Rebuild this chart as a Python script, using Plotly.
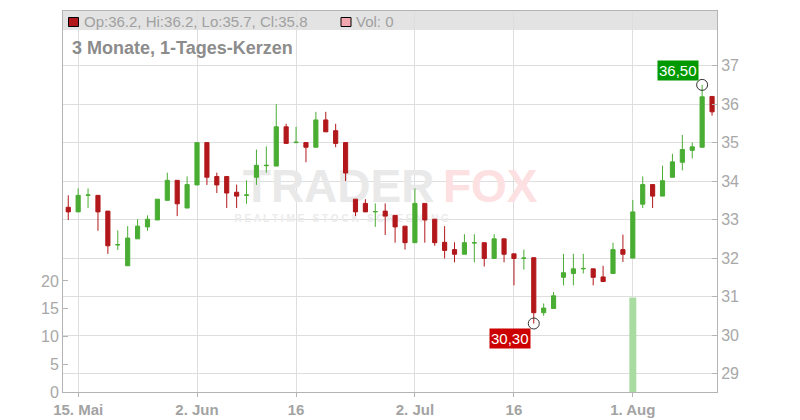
import numpy as np
import plotly.graph_objects as go

# ---------------- data ----------------
dates = [
    "2025-05-14", "2025-05-15", "2025-05-16", "2025-05-19", "2025-05-20", "2025-05-21", "2025-05-22",
    "2025-05-23", "2025-05-26", "2025-05-27", "2025-05-28", "2025-05-29", "2025-05-30", "2025-06-02",
    "2025-06-03", "2025-06-04", "2025-06-05", "2025-06-06", "2025-06-09", "2025-06-10", "2025-06-11",
    "2025-06-12", "2025-06-13", "2025-06-16", "2025-06-17", "2025-06-18", "2025-06-19", "2025-06-20",
    "2025-06-23", "2025-06-24", "2025-06-25", "2025-06-26", "2025-06-27", "2025-06-30", "2025-07-01",
    "2025-07-02", "2025-07-03", "2025-07-04", "2025-07-07", "2025-07-08", "2025-07-09", "2025-07-10",
    "2025-07-11", "2025-07-14", "2025-07-15", "2025-07-16", "2025-07-17", "2025-07-18", "2025-07-21",
    "2025-07-22", "2025-07-23", "2025-07-24", "2025-07-25", "2025-07-28", "2025-07-29", "2025-07-30",
    "2025-07-31", "2025-08-01", "2025-08-04", "2025-08-05", "2025-08-06", "2025-08-07", "2025-08-08",
    "2025-08-11", "2025-08-12", "2025-08-13",
]

open_ = [33.32, 33.20, 33.63, 33.63, 33.22, 32.34, 31.80, 32.50, 32.81, 32.99,
         33.50, 34.02, 33.30, 33.90, 35.00, 34.12, 34.12, 33.71, 33.63, 34.10,
         34.40, 34.39, 35.41, 35.00, 35.00, 34.88, 35.59, 35.31, 35.00, 33.53,
         33.42, 33.20, 33.22, 33.11, 32.83, 32.40, 33.42, 33.01, 32.41, 32.22,
         32.10, 32.39, 32.40, 31.99, 32.50, 32.11, 31.99, 32.01, 30.58, 30.69,
         31.50, 31.60, 31.72, 31.72, 31.51, 31.60, 32.22, 32.00, 33.40, 33.91,
         33.61, 34.10, 34.49, 34.80, 34.88, 36.20]
high = [33.63, 33.81, 33.81, 33.63, 33.22, 32.72, 32.83, 33.01, 33.11, 33.53,
        34.22, 34.02, 34.12, 35.00, 35.00, 34.22, 34.12, 33.91, 34.02, 34.82,
        34.90, 36.00, 35.49, 35.41, 35.00, 35.80, 35.80, 35.49, 35.00, 33.53,
        33.53, 33.42, 33.42, 33.11, 32.83, 33.81, 33.42, 33.01, 32.83, 32.41,
        32.62, 32.62, 32.40, 32.62, 32.50, 32.11, 32.22, 32.01, 30.82, 31.12,
        32.11, 32.11, 32.11, 31.72, 31.80, 32.40, 32.61, 33.51, 34.12, 33.91,
        34.40, 34.71, 35.20, 35.00, 36.50, 36.20]
low = [32.99, 33.20, 33.30, 32.71, 32.11, 32.21, 31.80, 32.50, 32.71, 32.99,
       33.50, 33.09, 33.30, 33.90, 33.90, 33.69, 33.30, 33.30, 33.41, 33.90,
       34.22, 34.39, 34.98, 35.00, 34.49, 34.88, 35.28, 34.88, 34.00, 33.09,
       33.20, 32.81, 32.60, 32.40, 32.22, 32.40, 32.40, 32.32, 31.99, 31.89,
       32.10, 31.89, 31.78, 31.99, 31.89, 31.29, 31.70, 30.30, 30.50, 30.69,
       31.29, 31.29, 31.60, 31.29, 31.39, 31.60, 31.90, 32.00, 33.30, 33.30,
       33.61, 34.10, 34.28, 34.59, 34.88, 35.70]
close = [33.20, 33.63, 33.64, 33.20, 32.32, 32.35, 32.52, 32.83, 33.01, 33.53,
         34.02, 33.41, 33.91, 35.00, 34.10, 33.90, 33.69, 33.61, 33.64, 34.41,
         34.41, 35.41, 34.98, 35.01, 34.88, 35.59, 35.28, 34.98, 34.21, 33.20,
         33.20, 33.21, 33.09, 32.81, 32.40, 33.42, 32.99, 32.40, 32.20, 32.10,
         32.40, 32.40, 31.99, 32.50, 32.10, 31.99, 32.00, 30.58, 30.70, 31.02,
         31.62, 31.72, 31.73, 31.50, 31.39, 32.22, 32.10, 33.20, 33.91, 33.61,
         34.01, 34.50, 34.82, 34.89, 36.19, 35.80]
volume = [0, 0, 0, 0, 0, 0, 0, 0, 0, 0, 0, 0, 0, 0, 0, 0, 0, 0, 0, 0,
          0, 0, 0, 0, 0, 0, 0, 0, 0, 0, 0, 0, 0, 0, 0, 0, 0, 0, 0, 0,
          0, 0, 0, 0, 0, 0, 0, 0, 0, 0, 0, 0, 0, 0, 0, 0, 0, 17, 0, 0,
          0, 0, 0, 0, 0, 0]

tick_dates = ["2025-05-15", "2025-06-02", "2025-06-16", "2025-07-02", "2025-07-16", "2025-08-01"]
tick_labels = ["15. Mai", "2. Jun", "16", "2. Jul", "16", "1. Aug"]
price_ticks = [29, 30, 31, 32, 33, 34, 35, 36, 37]
volume_ticks = [0, 5, 10, 15, 20]

subtitle = "3 Monate, 1-Tages-Kerzen"

# ---------------- styles ----------------
GREEN = "#4aad33"
RED = "#b2181b"
VOL_GREEN = "#a8dca0"
GRID = "#dedede"
AXIS = "#b4b4b4"
TICKTXT = "#a8a8a8"
FONT = "Liberation Sans, Arial, sans-serif"

x = np.arange(len(dates))
tickpos = [dates.index(d) for d in tick_dates]

i_hi = int(np.argmax(high))
i_lo = int(np.argmin(low))

fig = go.Figure()

# volume (left axis, base subplot)
fig.add_trace(go.Bar(
    x=x, y=volume, width=0.7, marker=dict(color=VOL_GREEN, line=dict(width=0)),
    xaxis="x", yaxis="y", hoverinfo="skip",
))

# watermark (behind candles)
fig.add_trace(go.Scatter(
    x=[27.3, 42.6], y=[36.2, 36.2], mode="text", text=["TRADER", "FOX"],
    textfont=dict(family=FONT, size=46, color=["#e9e9e9", "#fde0e1"], weight="bold"),
    textposition="middle center", xaxis="x", yaxis="y", hoverinfo="skip",
))
fig.add_trace(go.Scatter(
    x=[27.6], y=[31.0], mode="text", text=["R E A L T I M E   S T O C K   S C R E E N I N G"],
    textfont=dict(family=FONT, size=10, color="#ebebeb", weight="bold"),
    textposition="middle center", xaxis="x", yaxis="y", hoverinfo="skip",
))

# candles (right axis)
fig.add_trace(go.Candlestick(
    x=x, open=open_, high=high, low=low, close=close,
    increasing=dict(line=dict(color=GREEN, width=1), fillcolor=GREEN),
    decreasing=dict(line=dict(color=RED, width=1), fillcolor=RED),
    whiskerwidth=0, xaxis="x", yaxis="y2", hoverinfo="skip",
))

# high / low markers
fig.add_trace(go.Scatter(
    x=[x[i_hi], x[i_lo]], y=[high[i_hi], low[i_lo]], mode="markers",
    marker=dict(symbol="circle-open", size=11, color="#333333", line=dict(width=1, color="#333333")),
    xaxis="x", yaxis="y2", hoverinfo="skip",
))

def fmt(v):
    return f"{v:.2f}".replace(".", ",")

annotations = [
    dict(x=x[i_hi], y=high[i_hi], xref="x", yref="y2", text=fmt(high[i_hi]), showarrow=False,
         xanchor="right", yanchor="bottom", xshift=-3, yshift=4, bgcolor="#009a00",
         font=dict(family=FONT, size=15, color="white"), borderpad=1),
    dict(x=x[i_lo], y=low[i_lo], xref="x", yref="y2", text=fmt(low[i_lo]), showarrow=False,
         xanchor="right", yanchor="top", xshift=-3, yshift=-4, bgcolor="#cc0000",
         font=dict(family=FONT, size=15, color="white"), borderpad=1),
    dict(x=0, y=1, xref="paper", yref="paper", xanchor="left", yanchor="middle", xshift=19, yshift=-10.5,
         text=f"Op:{open_[-1]:.1f}, Hi:{high[-1]:.1f}, Lo:{low[-1]:.1f}, Cl:{close[-1]:.1f}",
         showarrow=False, font=dict(family=FONT, size=15, color="#a0a0a0")),
    dict(x=0, y=1, xref="paper", yref="paper", xanchor="left", yanchor="middle", xshift=291, yshift=-10.5,
         text=f"Vol: {volume[-1]}", showarrow=False, font=dict(family=FONT, size=15, color="#a0a0a0")),
    dict(x=0, y=1, xref="paper", yref="paper", xanchor="left", yanchor="middle", xshift=7, yshift=-37,
         text=f"<b>{subtitle}</b>", showarrow=False, font=dict(family=FONT, size=18, color="#8c8c8c")),
]

shapes = [
    dict(type="rect", xref="paper", yref="paper", x0=0, x1=1, ysizemode="pixel", yanchor=1, y0=0, y1=-19,
         fillcolor="#e3e3e3", line=dict(width=0), layer="below"),
    dict(type="rect", xref="paper", yref="paper", xsizemode="pixel", xanchor=0, x0=5.5, x1=15.5,
         ysizemode="pixel", yanchor=1, y0=-6.5, y1=-15.5, fillcolor=RED, line=dict(width=1, color="black")),
    dict(type="rect", xref="paper", yref="paper", xsizemode="pixel", xanchor=0, x0=278, x1=288,
         ysizemode="pixel", yanchor=1, y0=-6.5, y1=-15.5, fillcolor="#f2a7b0", line=dict(width=1, color="black")),
]

fig.update_layout(
    width=800, height=420,
    margin=dict(l=63, r=83, t=11, b=28, pad=0, autoexpand=False),
    paper_bgcolor="white", plot_bgcolor="white",
    showlegend=False, boxgap=0.4,
    font=dict(family=FONT, color=TICKTXT),
    xaxis=dict(
        range=[-0.53, 65.5], tickmode="array", tickvals=tickpos, ticktext=tick_labels,
        showgrid=True, gridcolor=GRID, gridwidth=1, zeroline=False,
        showline=True, mirror=True, linecolor=AXIS, linewidth=1,
        ticks="outside", ticklen=4, tickcolor=AXIS, automargin=False,
        tickfont=dict(family=FONT, size=15, color="#a3a3a3", weight="bold"),
        rangeslider=dict(visible=False), fixedrange=True,
    ),
    yaxis=dict(
        side="left", range=[0, 68.6], tickmode="array", tickvals=volume_ticks,
        showgrid=False, zeroline=False, showline=True, linecolor=AXIS, linewidth=1,
        ticks="inside", ticklen=5, tickcolor=AXIS, automargin=False,
        tickfont=dict(family=FONT, size=16, color=TICKTXT),
    ),
    yaxis2=dict(
        side="right", overlaying="y", range=[28.52, 38.42], tickmode="array", tickvals=price_ticks,
        showgrid=True, gridcolor=GRID, gridwidth=1, zeroline=False,
        showline=True, linecolor=AXIS, linewidth=1,
        ticks="inside", ticklen=5, tickcolor=AXIS, automargin=False,
        tickfont=dict(family=FONT, size=16, color=TICKTXT),
    ),
    annotations=annotations,
    shapes=shapes,
)

fig.write_html(
    "out.html",
    config={"displayModeBar": False},
    post_script="document.body.style.margin='0';document.body.style.overflow='hidden';",
)
